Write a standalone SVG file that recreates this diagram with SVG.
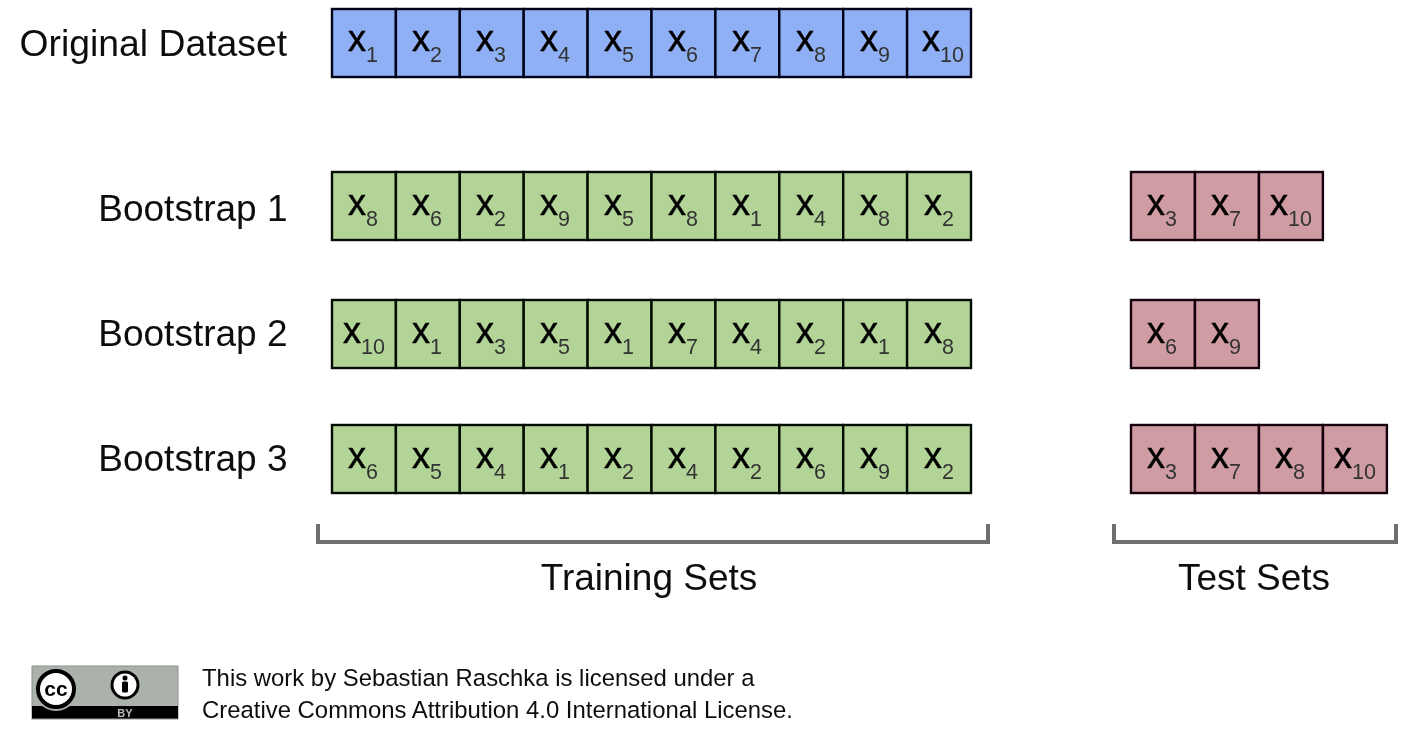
<svg xmlns="http://www.w3.org/2000/svg" width="1420" height="744" viewBox="0 0 1420 744">
<defs>
<filter id="soft" x="-2%" y="-2%" width="104%" height="104%"><feGaussianBlur stdDeviation="0.75"/></filter>
<g id="c"><rect width="63.9" height="68"/></g>
</defs>
<style>
text{font-family:"Liberation Sans",Arial,sans-serif;fill:#111}
.l{font-size:37px;text-anchor:end}
.m{font-size:37px;text-anchor:middle}
.x{font-size:36px;fill:#000;stroke:#000;stroke-width:0.500px}
.s{font-size:21.500px;fill:#333;stroke:none}
.t{font-size:23.900px;fill:#111}
.b rect,.b use{fill:#8fb0f5;stroke:#000414;stroke-width:2.400}
.g rect,.g use{fill:#b3d497;stroke:#060c02;stroke-width:2.400}
.r rect,.r use{fill:#cf9ca3;stroke:#180508;stroke-width:2.400}
.br{fill:none;stroke:#6e6e6e;stroke-width:4}
</style>
<rect width="1420" height="744" fill="#fff"/>
<g filter="url(#soft)">
<g id="original-dataset" class="b">
<use href="#c" x="332" y="9"/><use href="#c" x="395.9" y="9"/><use href="#c" x="459.8" y="9"/><use href="#c" x="523.7" y="9"/><use href="#c" x="587.6" y="9"/><use href="#c" x="651.5" y="9"/><use href="#c" x="715.4" y="9"/><use href="#c" x="779.3" y="9"/><use href="#c" x="843.2" y="9"/><use href="#c" x="907.1" y="9"/>
<text class="l" x="287" y="56" style="font-size:37.300px">Original Dataset</text>
<text class="x" x="348" y="51">x<tspan class="s" dy="11">1</tspan></text><text class="x" x="412" y="51">x<tspan class="s" dy="11">2</tspan></text><text class="x" x="476" y="51">x<tspan class="s" dy="11">3</tspan></text><text class="x" x="540" y="51">x<tspan class="s" dy="11">4</tspan></text><text class="x" x="604" y="51">x<tspan class="s" dy="11">5</tspan></text><text class="x" x="668" y="51">x<tspan class="s" dy="11">6</tspan></text><text class="x" x="732" y="51">x<tspan class="s" dy="11">7</tspan></text><text class="x" x="796" y="51">x<tspan class="s" dy="11">8</tspan></text><text class="x" x="860" y="51">x<tspan class="s" dy="11">9</tspan></text><text class="x" x="922" y="51">x<tspan class="s" dy="11">10</tspan></text>
</g>
<g id="bootstrap-1" class="g">
<use href="#c" x="332" y="172"/><use href="#c" x="395.9" y="172"/><use href="#c" x="459.8" y="172"/><use href="#c" x="523.7" y="172"/><use href="#c" x="587.6" y="172"/><use href="#c" x="651.5" y="172"/><use href="#c" x="715.4" y="172"/><use href="#c" x="779.3" y="172"/><use href="#c" x="843.2" y="172"/><use href="#c" x="907.1" y="172"/>
<text class="l" x="287.500" y="221">Bootstrap 1</text>
<text class="x" x="348" y="215">x<tspan class="s" dy="11">8</tspan></text><text class="x" x="412" y="215">x<tspan class="s" dy="11">6</tspan></text><text class="x" x="476" y="215">x<tspan class="s" dy="11">2</tspan></text><text class="x" x="540" y="215">x<tspan class="s" dy="11">9</tspan></text><text class="x" x="604" y="215">x<tspan class="s" dy="11">5</tspan></text><text class="x" x="668" y="215">x<tspan class="s" dy="11">8</tspan></text><text class="x" x="732" y="215">x<tspan class="s" dy="11">1</tspan></text><text class="x" x="796" y="215">x<tspan class="s" dy="11">4</tspan></text><text class="x" x="860" y="215">x<tspan class="s" dy="11">8</tspan></text><text class="x" x="924" y="215">x<tspan class="s" dy="11">2</tspan></text>
</g>
<g id="bootstrap-2" class="g">
<use href="#c" x="332" y="300"/><use href="#c" x="395.9" y="300"/><use href="#c" x="459.8" y="300"/><use href="#c" x="523.7" y="300"/><use href="#c" x="587.6" y="300"/><use href="#c" x="651.5" y="300"/><use href="#c" x="715.4" y="300"/><use href="#c" x="779.3" y="300"/><use href="#c" x="843.2" y="300"/><use href="#c" x="907.1" y="300"/>
<text class="l" x="287.500" y="346">Bootstrap 2</text>
<text class="x" x="343" y="343">x<tspan class="s" dy="11">10</tspan></text><text class="x" x="412" y="343">x<tspan class="s" dy="11">1</tspan></text><text class="x" x="476" y="343">x<tspan class="s" dy="11">3</tspan></text><text class="x" x="540" y="343">x<tspan class="s" dy="11">5</tspan></text><text class="x" x="604" y="343">x<tspan class="s" dy="11">1</tspan></text><text class="x" x="668" y="343">x<tspan class="s" dy="11">7</tspan></text><text class="x" x="732" y="343">x<tspan class="s" dy="11">4</tspan></text><text class="x" x="796" y="343">x<tspan class="s" dy="11">2</tspan></text><text class="x" x="860" y="343">x<tspan class="s" dy="11">1</tspan></text><text class="x" x="924" y="343">x<tspan class="s" dy="11">8</tspan></text>
</g>
<g id="bootstrap-3" class="g">
<use href="#c" x="332" y="425"/><use href="#c" x="395.9" y="425"/><use href="#c" x="459.8" y="425"/><use href="#c" x="523.7" y="425"/><use href="#c" x="587.6" y="425"/><use href="#c" x="651.5" y="425"/><use href="#c" x="715.4" y="425"/><use href="#c" x="779.3" y="425"/><use href="#c" x="843.2" y="425"/><use href="#c" x="907.1" y="425"/>
<text class="l" x="287.500" y="471">Bootstrap 3</text>
<text class="x" x="348" y="468">x<tspan class="s" dy="11">6</tspan></text><text class="x" x="412" y="468">x<tspan class="s" dy="11">5</tspan></text><text class="x" x="476" y="468">x<tspan class="s" dy="11">4</tspan></text><text class="x" x="540" y="468">x<tspan class="s" dy="11">1</tspan></text><text class="x" x="604" y="468">x<tspan class="s" dy="11">2</tspan></text><text class="x" x="668" y="468">x<tspan class="s" dy="11">4</tspan></text><text class="x" x="732" y="468">x<tspan class="s" dy="11">2</tspan></text><text class="x" x="796" y="468">x<tspan class="s" dy="11">6</tspan></text><text class="x" x="860" y="468">x<tspan class="s" dy="11">9</tspan></text><text class="x" x="924" y="468">x<tspan class="s" dy="11">2</tspan></text>
</g>
<g id="test-1" class="r">
<use href="#c" x="1131" y="172"/><use href="#c" x="1195" y="172"/><use href="#c" x="1259" y="172"/>
<text class="x" x="1147" y="215">x<tspan class="s" dy="11">3</tspan></text><text class="x" x="1211" y="215">x<tspan class="s" dy="11">7</tspan></text><text class="x" x="1270" y="215">x<tspan class="s" dy="11">10</tspan></text>
</g>
<g id="test-2" class="r">
<use href="#c" x="1131" y="300"/><use href="#c" x="1195" y="300"/>
<text class="x" x="1147" y="343">x<tspan class="s" dy="11">6</tspan></text><text class="x" x="1211" y="343">x<tspan class="s" dy="11">9</tspan></text>
</g>
<g id="test-3" class="r">
<use href="#c" x="1131" y="425"/><use href="#c" x="1195" y="425"/><use href="#c" x="1259" y="425"/><use href="#c" x="1323" y="425"/>
<text class="x" x="1147" y="468">x<tspan class="s" dy="11">3</tspan></text><text class="x" x="1211" y="468">x<tspan class="s" dy="11">7</tspan></text><text class="x" x="1275" y="468">x<tspan class="s" dy="11">8</tspan></text><text class="x" x="1334" y="468">x<tspan class="s" dy="11">10</tspan></text>
</g>
<g id="connectors">
<path class="br" d="M318 524V542H988V524"/>
<path class="br" d="M1114 524V542H1396V524"/>
</g>
<g id="training-sets"><text class="m" x="649" y="590">Training Sets</text></g>
<g id="test-sets"><text class="m" x="1254" y="590">Test Sets</text></g>
<g id="license">
<rect x="32" y="666" width="146" height="53" fill="#aab2ab" stroke="#8a8f8a"/>
<rect x="32" y="706" width="146" height="12.500" fill="#050505"/>
<circle cx="56" cy="689" r="22" fill="#aab2ab"/>
<circle cx="56" cy="689" r="18" fill="#fff" stroke="#000" stroke-width="4"/>
<text x="56" y="696" text-anchor="middle" style="font-size:21px;font-weight:700;fill:#000">cc</text>
<circle cx="125" cy="685" r="13" fill="#fff" stroke="#000" stroke-width="3"/>
<circle cx="125" cy="678" r="2.500" fill="#000"/>
<rect x="122" y="681.500" width="6" height="11" rx="1.500" fill="#000"/>
<text x="125" y="717" text-anchor="middle" style="font-size:11px;font-weight:700;fill:#bbb">BY</text>
<text class="t" x="202" y="686">This work by Sebastian Raschka is licensed under a</text>
<text class="t" x="202" y="718">Creative Commons Attribution 4.0 International License.</text>
</g>
</g>
</svg>
